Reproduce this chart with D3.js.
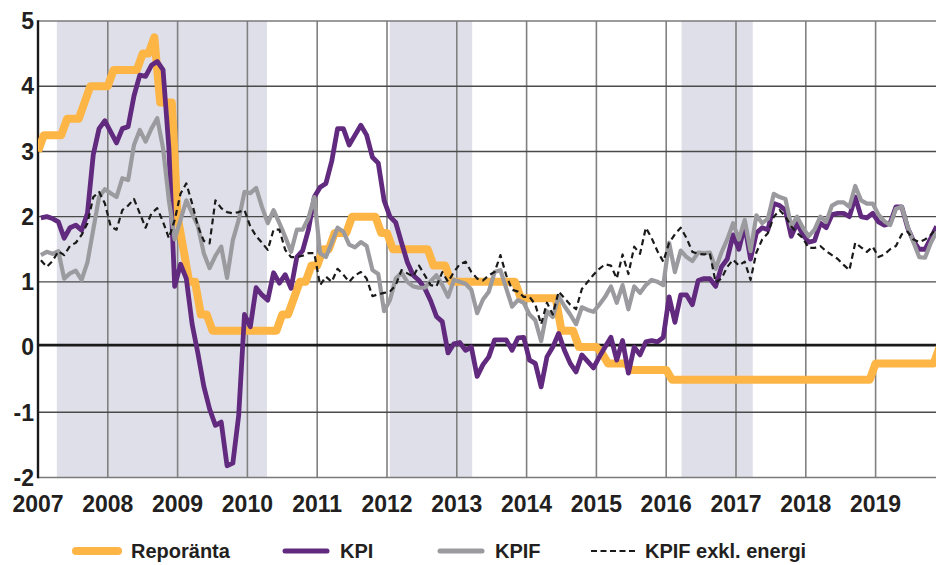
<!DOCTYPE html>
<html><head><meta charset="utf-8">
<script src="https://cdn.jsdelivr.net/npm/d3@7"></script>
<style>html,body{margin:0;padding:0;background:#fff}svg{display:block}</style>
</head><body><svg id="chart" width="936" height="565"></svg>
<script>
// ---- data ----
const years = ["2007","2008","2009","2010","2011","2012","2013","2014","2015","2016","2017","2018","2019"];
const yTicks = [-2,-1,0,1,2,3,4,5];
const shadedPeriods = [[2007.27,2010.28],[2012.04,2013.22],[2016.22,2017.24]];
const seriesNames = ["Reporänta","KPI","KPIF","KPIF exkl. energi"];

// monthly, Jan 2007 - Dec 2019 (value at start of month)
const reporanta = [
3.0,3.25,3.25,3.25,3.25,3.5,3.5,3.5,3.75,4.0,4.0,4.0,
4.0,4.25,4.25,4.25,4.25,4.25,4.5,4.5,4.75,3.75,3.75,3.75,
2.0,1.5,1.0,1.0,0.5,0.5,0.25,0.25,0.25,0.25,0.25,0.25,
0.25,0.25,0.25,0.25,0.25,0.25,0.5,0.5,0.75,1.0,1.0,1.25,
1.25,1.5,1.5,1.75,1.75,1.75,2.0,2.0,2.0,2.0,2.0,1.75,
1.75,1.5,1.5,1.5,1.5,1.5,1.5,1.5,1.25,1.25,1.25,1.0,
1.0,1.0,1.0,1.0,1.0,1.0,1.0,1.0,1.0,1.0,1.0,0.75,
0.75,0.75,0.75,0.75,0.75,0.75,0.25,0.25,0.25,0.0,0.0,0.0,
0.0,-0.1,-0.25,-0.25,-0.25,-0.25,-0.35,-0.35,-0.35,-0.35,-0.35,-0.35,
-0.35,-0.5,-0.5,-0.5,-0.5,-0.5,-0.5,-0.5,-0.5,-0.5,-0.5,-0.5,
-0.5,-0.5,-0.5,-0.5,-0.5,-0.5,-0.5,-0.5,-0.5,-0.5,-0.5,-0.5,
-0.5,-0.5,-0.5,-0.5,-0.5,-0.5,-0.5,-0.5,-0.5,-0.5,-0.5,-0.5,
-0.25,-0.25,-0.25,-0.25,-0.25,-0.25,-0.25,-0.25,-0.25,-0.25,-0.25,0.0];

// monthly, Jan 2007 - Nov 2019 (mid-month)
const kpi = [
1.98,2.0,1.97,1.92,1.67,1.83,1.87,1.79,2.05,2.95,3.35,3.47,
3.3,3.13,3.35,3.38,3.85,4.17,4.15,4.32,4.38,4.25,3.05,0.93,
1.27,1.05,0.35,-0.1,-0.6,-0.95,-1.2,-1.15,-1.82,-1.78,-1.05,0.5,
0.31,0.91,0.8,0.72,1.14,0.98,1.11,0.9,1.38,1.48,1.8,2.3,
2.45,2.51,2.85,3.35,3.35,3.1,3.25,3.4,3.25,2.91,2.82,2.25,
2.0,1.91,1.6,1.3,1.1,1.02,0.9,0.71,0.47,0.39,-0.09,0.05,
0.07,-0.05,0.0,-0.45,-0.27,-0.15,0.11,0.11,0.11,-0.05,0.14,0.15,
-0.2,-0.25,-0.61,-0.15,0.0,0.21,-0.05,-0.25,-0.38,-0.12,-0.22,-0.32,
-0.15,0.0,0.15,-0.2,0.1,-0.4,0.0,-0.12,0.08,0.1,0.08,0.15,
0.77,0.38,0.8,0.8,0.65,1.02,1.05,1.05,0.93,1.23,1.35,1.72,
1.5,1.87,1.35,1.75,1.83,1.8,2.2,2.17,2.1,1.7,1.9,1.72,
1.61,1.63,1.9,1.83,2.03,2.05,2.05,2.0,2.3,2.0,1.98,2.05,
1.92,1.87,1.9,2.15,2.15,1.83,1.63,1.5,1.5,1.67,1.85];

const kpif = [
1.41,1.46,1.43,1.47,1.05,1.13,1.17,1.03,1.3,1.8,2.3,2.42,
2.36,2.3,2.59,2.56,3.1,3.33,3.15,3.35,3.51,3.05,2.25,1.65,
1.95,2.25,2.05,1.85,1.44,1.21,1.4,1.54,1.06,1.64,1.95,2.38,
2.36,2.44,2.15,1.9,2.1,1.9,1.69,1.46,1.8,1.8,1.98,2.3,
1.44,1.38,1.6,1.83,1.77,1.57,1.53,1.61,1.55,1.18,1.12,0.55,
0.72,1.05,1.14,1.0,0.93,0.91,0.91,1.01,1.1,0.95,0.77,1.03,
1.0,0.97,0.88,0.52,0.73,0.85,1.15,1.18,0.9,0.62,0.72,0.68,
0.5,0.41,0.09,0.55,0.46,0.78,0.63,0.5,0.35,0.61,0.57,0.54,
0.65,0.77,0.93,0.68,0.95,0.58,0.93,0.83,0.95,1.03,1.0,0.95,
1.6,1.15,1.48,1.38,1.32,1.45,1.44,1.45,1.2,1.45,1.65,1.9,
1.65,1.95,1.47,2.02,1.9,1.97,2.35,2.3,2.27,1.85,2.0,1.83,
1.7,1.8,2.0,1.92,2.17,2.22,2.22,2.15,2.47,2.25,2.2,2.2,
2.03,1.93,1.87,2.12,2.15,1.85,1.61,1.38,1.37,1.6,1.77];

const kpifExEnergi = [
1.33,1.23,1.32,1.47,1.41,1.55,1.6,1.72,1.9,2.3,2.38,2.2,
1.85,1.8,2.1,2.17,2.27,2.05,1.83,2.05,2.13,1.92,1.67,1.95,
2.35,2.51,2.2,1.85,1.63,1.59,2.25,2.13,2.07,2.05,2.07,2.1,
1.85,1.7,1.6,1.49,1.8,1.8,1.49,1.38,1.38,1.4,1.44,1.44,
0.95,1.08,1.0,1.2,1.11,1.0,1.1,1.15,1.05,0.78,0.81,0.83,
0.85,0.95,1.18,1.13,1.08,1.25,1.1,0.95,0.93,1.15,1.0,1.15,
1.27,1.31,1.15,1.05,1.02,1.1,1.15,1.41,1.1,0.88,0.85,0.77,
0.77,0.65,0.35,0.68,0.5,0.85,0.75,0.65,0.58,0.89,1.0,1.11,
1.2,1.27,1.25,1.05,1.42,1.12,1.54,1.43,1.83,1.67,1.47,1.31,
1.6,1.73,1.83,1.67,1.46,1.43,1.42,1.44,0.99,1.05,1.23,1.34,
1.25,1.31,1.03,1.45,1.65,1.75,2.0,2.1,2.0,1.85,1.75,1.67,
1.52,1.52,1.55,1.47,1.41,1.35,1.26,1.18,1.6,1.53,1.46,1.54,
1.38,1.42,1.5,1.55,1.73,1.77,1.65,1.61,1.65,1.72,1.83];

// ---- chart ----
const plotLeft = 38, plotRight = 936, plotTop = 21, plotBottom = 477.5;
const svg = d3.select("#chart");
const x = d3.scaleLinear().domain([2007, 2020]).range([plotLeft, 945.4]);
const y = d3.scaleLinear().domain([-2, 5]).range([plotBottom, plotTop]);

const startMonth = i => 2007 + i / 12;
const midMonth = i => 2007 + (i + 0.5) / 12;

svg.append("defs").append("clipPath").attr("id","plotClip")
  .append("rect").attr("x", plotLeft).attr("y", 0).attr("width", plotRight - plotLeft).attr("height", plotBottom + 2);

// shaded periods
svg.append("g").selectAll("rect").data(shadedPeriods).join("rect")
  .attr("x", d => x(d[0])).attr("width", d => x(d[1]) - x(d[0]))
  .attr("y", y(5)).attr("height", y(-2) - y(5))
  .attr("fill", "#dfdfe9");

// vertical gridlines
svg.append("g").selectAll("line").data(years.slice(1).map(Number)).join("line")
  .attr("x1", d => x(d)).attr("x2", d => x(d))
  .attr("y1", y(5)).attr("y2", y(-2))
  .attr("stroke", "#808080").attr("stroke-width", 1.6);

// horizontal gridlines
svg.append("g").selectAll("line").data(yTicks.filter(v => v !== 0)).join("line")
  .attr("x1", plotLeft).attr("x2", plotRight)
  .attr("y1", d => y(d)).attr("y2", d => y(d))
  .attr("stroke", d => (d === 5 || d === -2) ? "#7a7a7a" : "#4a4a4a")
  .attr("stroke-width", 1.4);

// zero line
svg.append("line").attr("x1", plotLeft).attr("x2", plotRight)
  .attr("y1", y(0) - 2).attr("y2", y(0) - 2)
  .attr("stroke", "#1a1a1a").attr("stroke-width", 2.8);

// left axis
svg.append("line").attr("x1", plotLeft).attr("x2", plotLeft)
  .attr("y1", y(5) - 0.7).attr("y2", y(-2) + 0.7)
  .attr("stroke", "#1a1a1a").attr("stroke-width", 2.4);

// lines
const plot = svg.append("g").attr("clip-path", "url(#plotClip)");
const lineStart = d3.line().x((d, i) => x(startMonth(i))).y(d => y(d));
const lineMid = d3.line().x((d, i) => x(midMonth(i))).y(d => y(d));

plot.append("path").datum(reporanta).attr("d", lineStart)
  .attr("fill", "none").attr("stroke", "#fdb546").attr("stroke-width", 8)
  .attr("stroke-linejoin", "round").attr("stroke-linecap", "butt");
plot.append("path").datum(kpi).attr("d", lineMid)
  .attr("fill", "none").attr("stroke", "#612a7f").attr("stroke-width", 4.8)
  .attr("stroke-linejoin", "round");
plot.append("path").datum(kpif).attr("d", lineMid)
  .attr("fill", "none").attr("stroke", "#9b9b9f").attr("stroke-width", 4.2)
  .attr("stroke-linejoin", "round");
plot.append("path").datum(kpifExEnergi).attr("d", lineMid)
  .attr("fill", "none").attr("stroke", "#1a1a1a").attr("stroke-width", 2.2)
  .attr("stroke-dasharray", "6,4").attr("stroke-linejoin", "round");

// y labels
const font = "'Liberation Sans', Arial, sans-serif";
svg.append("g").selectAll("text").data(yTicks).join("text")
  .attr("x", 34).attr("y", d => y(d)).attr("dy", "0.36em")
  .attr("text-anchor", "end")
  .attr("font-family", font).attr("font-weight", "bold").attr("font-size", 23)
  .attr("fill", "#231f20").text(d => d);

// x labels
svg.append("g").selectAll("text").data(years).join("text")
  .attr("x", d => x(+d)).attr("y", 512)
  .attr("text-anchor", "middle")
  .attr("font-family", font).attr("font-weight", "bold").attr("font-size", 23)
  .attr("fill", "#231f20").text(d => d);

// legend
const legendItems = [
  {name: seriesNames[0], color: "#fdb546", width: 8, dash: null, x: 72},
  {name: seriesNames[1], color: "#612a7f", width: 5, dash: null, x: 281},
  {name: seriesNames[2], color: "#9b9b9f", width: 5, dash: null, x: 436},
  {name: seriesNames[3], color: "#1a1a1a", width: 2, dash: "6,3.5", x: 591}
];
const lg = svg.append("g");
legendItems.forEach(it => {
  const len = it.dash ? 45 : 50;
  lg.append("line").attr("x1", it.x + (it.dash ? 0 : 4)).attr("x2", it.x + len - (it.dash ? 0 : 4))
    .attr("y1", 551).attr("y2", 551)
    .attr("stroke", it.color).attr("stroke-width", it.width)
    .attr("stroke-linecap", it.dash ? "butt" : "round")
    .attr("stroke-dasharray", it.dash);
  lg.append("text").attr("x", it.x + len + 9).attr("y", 558)
    .attr("font-family", font).attr("font-weight", "bold").attr("font-size", 20)
    .attr("fill", "#231f20").text(it.name);
});
</script></body></html>
